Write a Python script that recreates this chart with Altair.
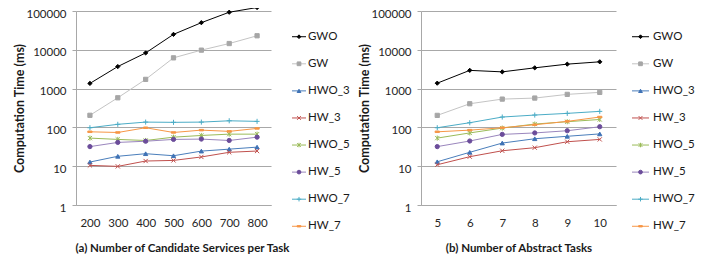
import altair as alt
import pandas as pd

series = ["GWO", "GW", "HWO_3", "HW_3", "HWO_5", "HW_5", "HWO_7", "HW_7"]

# (a) Number of Candidate Services per Task
services = ["200", "300", "400", "500", "600", "700", "800"]
a_GWO = [1360, 3700, 8300, 25000, 50000, 93000, 123000]
a_GW = [205, 580, 1730, 6200, 9800, 14500, 23000]
a_HWO_3 = [12.8, 18, 21, 18.6, 24.5, 27.5, 31]
a_HW_3 = [10.5, 9.9, 13.6, 14.1, 17.3, 22.8, 24.6]
a_HWO_5 = [53, 49, 46, 56, 62, 67, 67]
a_HW_5 = [32, 41, 44, 49, 50, 46, 56]
a_HWO_7 = [98, 120, 137, 135, 137, 148, 143]
a_HW_7 = [77, 74, 98, 74, 85, 79, 94]

# (b) Number of Abstract Tasks
tasks = ["5", "6", "7", "8", "9", "10"]
b_GWO = [1380, 2950, 2700, 3430, 4270, 4900]
b_GW = [204, 407, 536, 570, 710, 800]
b_HWO_3 = [13, 22.8, 39.5, 51, 59, 68]
b_HW_3 = [10.9, 17.6, 25, 30, 42.7, 49]
b_HWO_5 = [53, 72, 96, 122, 140, 160]
b_HW_5 = [32, 44.6, 66, 72, 82, 104]
b_HWO_7 = [98, 132, 185, 208, 230, 259]
b_HW_7 = [77, 85, 98, 117, 143, 185]

line_colors = ["#000000", "#c4c4c4", "#4a7ebb", "#c0504d", "#9bbb59", "#9a86bd", "#4bacc6", "#f79646"]
marker_colors = ["#000000", "#a6a6a6", "#3f72b5", "#c0504d", "#9bbb59", "#6b4c9a", "#4bacc6", "#f79646"]
shapes = [
    "diamond",
    "square",
    "triangle-up",
    "M-1,-1L1,1M-1,1L1,-1",
    "M-1,-1L1,1M-1,1L1,-1M0,-1.2L0,1.2",
    "circle",
    "M-1.2,0L1.2,0M0,-1.2L0,1.2",
    "M-1,-0.35L1,-0.35L1,0.35L-1,0.35Z",
]

FONT = "Lato"
GRID = "#a8a8a8"


def long_df(xs, cols):
    rows = []
    for s, vals in zip(series, cols):
        for i, (x, v) in enumerate(zip(xs, vals)):
            rows.append({"x": x, "v": v, "s": s, "i": i})
    return pd.DataFrame(rows)


df_a = long_df(services, [a_GWO, a_GW, a_HWO_3, a_HW_3, a_HWO_5, a_HW_5, a_HWO_7, a_HW_7])
df_b = long_df(tasks, [b_GWO, b_GW, b_HWO_3, b_HW_3, b_HWO_5, b_HW_5, b_HWO_7, b_HW_7])

line_color = alt.Color("s:N", scale=alt.Scale(domain=series, range=line_colors), legend=None)
mk_fill = alt.Fill("s:N", scale=alt.Scale(domain=series, range=marker_colors), legend=None)
mk_stroke = alt.Stroke("s:N", scale=alt.Scale(domain=series, range=marker_colors), legend=None)
mk_shape = alt.Shape("s:N", scale=alt.Scale(domain=series, range=shapes), legend=None)


def panel(df, xs, xtitle, title_x):
    xaxis = dict(
        title=xtitle, labelAngle=0, ticks=False, grid=False, domainColor=GRID,
        labelPadding=12, labelFontSize=11.5, labelColor="#262626",
        titleFontSize=11.5, titleFontWeight="bold", titleColor="#1a1a1a",
        titleY=43, titleBaseline="middle",
    )
    if title_x is not None:
        xaxis["titleX"] = title_x
    base = alt.Chart(df).encode(
        x=alt.X("x:O", sort=xs, scale=alt.Scale(type="point", padding=0.5), axis=alt.Axis(**xaxis)),
        y=alt.Y(
            "v:Q",
            scale=alt.Scale(type="log", domain=[1, 100000], nice=False),
            axis=alt.Axis(
                values=[1, 10, 100, 1000, 10000, 100000], format="d",
                title="Computation Time (ms)", titleFontSize=12.5, titleFontWeight="bold",
                titleColor="#1a1a1a", titleX=-57, titleBaseline="middle",
                grid=True, gridColor=GRID, domainColor=GRID, tickColor=GRID, tickSize=4,
                labelPadding=6, labelOffset=3, labelFontSize=11.5, labelColor="#262626",
            ),
        ),
        order=alt.Order("i:Q"),
    )
    lines = base.mark_line(strokeWidth=1, clip=False).encode(color=line_color)
    pts = base.mark_point(filled=True, size=18, strokeWidth=1, opacity=1, clip=False).encode(
        shape=mk_shape, fill=mk_fill, stroke=mk_stroke
    )
    return alt.layer(lines, pts).properties(width=195, height=194)


leg_df = pd.DataFrame({"s": series})


def legend(width, x0, x1, xt):
    b = alt.Chart(leg_df).encode(
        y=alt.Y("s:N", sort=series, scale=alt.Scale(type="point", padding=0.95), axis=None)
    )
    rule = b.mark_rule(strokeWidth=1).encode(x=alt.value(x0), x2=alt.value(x1), color=line_color)
    pt = b.mark_point(filled=True, size=14, strokeWidth=1, opacity=1).encode(
        x=alt.value((x0 + x1) / 2), shape=mk_shape, fill=mk_fill, stroke=mk_stroke
    )
    txt = b.mark_text(align="left", baseline="middle", fontSize=11.5, font=FONT, color="#1a1a1a").encode(
        x=alt.value(xt), text="s:N"
    )
    return alt.layer(rule, pt, txt).properties(width=width, height=241)


chart_a = panel(df_a, services, "(a) Number of Candidate Services per Task", 106)
chart_b = panel(df_b, tasks, "(b) Number of Abstract Tasks", None)

chart = (
    alt.hconcat(
        chart_a, legend(150, 21, 35, 37), chart_b, legend(90, 16, 33, 37),
        spacing=0, bounds="flush",
    )
    .properties(padding={"left": 4, "top": -5, "right": 0, "bottom": 0})
    .configure(font=FONT)
    .configure_view(stroke=None)
    .configure_axis(labelFont=FONT, titleFont=FONT)
)

chart.save("out.html", embed_options={"renderer": "svg", "actions": False})
